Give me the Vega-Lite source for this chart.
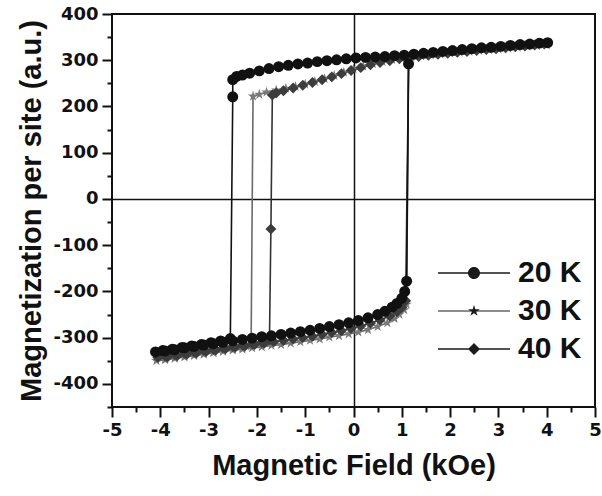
{
  "$schema": "https://vega.github.io/schema/vega-lite/v6.json",
  "width": 483,
  "height": 393,
  "autosize": {"type": "none"},
  "padding": {"left": 112, "top": 14, "right": 7, "bottom": 89},
  "background": "white",
  "config": {
    "view": {"stroke": "#111111", "strokeWidth": 2},
    "axis": {"domain": false, "tickColor": "#111111", "tickWidth": 2, "labelColor": "#111111", "titleColor": "#111111", "labelFont": "DejaVu Sans", "labelFontWeight": "bold", "labelFontSize": 18, "titleFont": "Liberation Sans", "titleFontWeight": "bold", "titleFontSize": 29, "labelFlush": false, "labelOverlap": false, "gridColor": "#111111", "gridWidth": 1.5}
  },
  "resolve": {"scale": {"shape": "independent"}},
  "data": {"name": "loops", "values": [
      {"T": "30 K", "i": 0, "H": 4.0, "M": 333}, {"T": "30 K", "i": 1, "H": 3.8, "M": 331}, {"T": "30 K", "i": 2, "H": 3.6, "M": 330}, {"T": "30 K", "i": 3, "H": 3.4, "M": 328}, {"T": "30 K", "i": 4, "H": 3.2, "M": 326}, {"T": "30 K", "i": 5, "H": 3.0, "M": 324}, {"T": "30 K", "i": 6, "H": 2.8, "M": 323}, {"T": "30 K", "i": 7, "H": 2.6, "M": 321}, {"T": "30 K", "i": 8, "H": 2.4, "M": 319}, {"T": "30 K", "i": 9, "H": 2.2, "M": 317}, {"T": "30 K", "i": 10, "H": 2.0, "M": 315}, {"T": "30 K", "i": 11, "H": 1.8, "M": 313}, {"T": "30 K", "i": 12, "H": 1.6, "M": 311}, {"T": "30 K", "i": 13, "H": 1.4, "M": 309}, {"T": "30 K", "i": 14, "H": 1.2, "M": 307}, {"T": "30 K", "i": 15, "H": 1.0, "M": 304}, {"T": "30 K", "i": 16, "H": 0.8, "M": 301}, {"T": "30 K", "i": 17, "H": 0.6, "M": 297}, {"T": "30 K", "i": 18, "H": 0.4, "M": 292}, {"T": "30 K", "i": 19, "H": 0.2, "M": 287}, {"T": "30 K", "i": 20, "H": 0.0, "M": 281}, {"T": "30 K", "i": 21, "H": -0.2, "M": 274}, {"T": "30 K", "i": 22, "H": -0.4, "M": 267}, {"T": "30 K", "i": 23, "H": -0.6, "M": 260}, {"T": "30 K", "i": 24, "H": -0.8, "M": 254}, {"T": "30 K", "i": 25, "H": -1.0, "M": 248}, {"T": "30 K", "i": 26, "H": -1.2, "M": 243}, {"T": "30 K", "i": 27, "H": -1.4, "M": 239}, {"T": "30 K", "i": 28, "H": -1.6, "M": 235}, {"T": "30 K", "i": 29, "H": -1.8, "M": 231}, {"T": "30 K", "i": 30, "H": -1.95, "M": 226}, {"T": "30 K", "i": 31, "H": -2.08, "M": 222},
      {"T": "30 K", "i": 32, "H": -2.12, "M": -318}, {"T": "30 K", "i": 33, "H": -2.3, "M": -322}, {"T": "30 K", "i": 34, "H": -2.5, "M": -325}, {"T": "30 K", "i": 35, "H": -2.7, "M": -328}, {"T": "30 K", "i": 36, "H": -2.9, "M": -331}, {"T": "30 K", "i": 37, "H": -3.1, "M": -334}, {"T": "30 K", "i": 38, "H": -3.3, "M": -337}, {"T": "30 K", "i": 39, "H": -3.5, "M": -340}, {"T": "30 K", "i": 40, "H": -3.7, "M": -343}, {"T": "30 K", "i": 41, "H": -3.9, "M": -346}, {"T": "30 K", "i": 42, "H": -4.08, "M": -350},
      {"T": "30 K", "i": 43, "H": -3.9, "M": -348}, {"T": "30 K", "i": 44, "H": -3.7, "M": -345}, {"T": "30 K", "i": 45, "H": -3.5, "M": -342}, {"T": "30 K", "i": 46, "H": -3.3, "M": -339}, {"T": "30 K", "i": 47, "H": -3.1, "M": -336}, {"T": "30 K", "i": 48, "H": -2.9, "M": -333}, {"T": "30 K", "i": 49, "H": -2.7, "M": -330}, {"T": "30 K", "i": 50, "H": -2.5, "M": -327}, {"T": "30 K", "i": 51, "H": -2.3, "M": -325}, {"T": "30 K", "i": 52, "H": -2.1, "M": -322}, {"T": "30 K", "i": 53, "H": -1.9, "M": -320}, {"T": "30 K", "i": 54, "H": -1.7, "M": -317}, {"T": "30 K", "i": 55, "H": -1.5, "M": -315}, {"T": "30 K", "i": 56, "H": -1.3, "M": -312}, {"T": "30 K", "i": 57, "H": -1.1, "M": -309}, {"T": "30 K", "i": 58, "H": -0.9, "M": -306}, {"T": "30 K", "i": 59, "H": -0.7, "M": -303}, {"T": "30 K", "i": 60, "H": -0.5, "M": -299}, {"T": "30 K", "i": 61, "H": -0.3, "M": -296}, {"T": "30 K", "i": 62, "H": -0.1, "M": -292}, {"T": "30 K", "i": 63, "H": 0.1, "M": -288}, {"T": "30 K", "i": 64, "H": 0.3, "M": -283}, {"T": "30 K", "i": 65, "H": 0.5, "M": -276}, {"T": "30 K", "i": 66, "H": 0.7, "M": -268}, {"T": "30 K", "i": 67, "H": 0.85, "M": -259}, {"T": "30 K", "i": 68, "H": 0.95, "M": -250}, {"T": "30 K", "i": 69, "H": 1.05, "M": -240}, {"T": "30 K", "i": 70, "H": 1.1, "M": -228}, {"T": "30 K", "i": 71, "H": 1.14, "M": 292},

      {"T": "40 K", "i": 0, "H": 3.95, "M": 335}, {"T": "40 K", "i": 1, "H": 3.75, "M": 333}, {"T": "40 K", "i": 2, "H": 3.55, "M": 331}, {"T": "40 K", "i": 3, "H": 3.35, "M": 329}, {"T": "40 K", "i": 4, "H": 3.15, "M": 327}, {"T": "40 K", "i": 5, "H": 2.95, "M": 325}, {"T": "40 K", "i": 6, "H": 2.75, "M": 323}, {"T": "40 K", "i": 7, "H": 2.55, "M": 321}, {"T": "40 K", "i": 8, "H": 2.35, "M": 319}, {"T": "40 K", "i": 9, "H": 2.15, "M": 317}, {"T": "40 K", "i": 10, "H": 1.95, "M": 315}, {"T": "40 K", "i": 11, "H": 1.75, "M": 313}, {"T": "40 K", "i": 12, "H": 1.55, "M": 311}, {"T": "40 K", "i": 13, "H": 1.35, "M": 308}, {"T": "40 K", "i": 14, "H": 1.15, "M": 306}, {"T": "40 K", "i": 15, "H": 0.95, "M": 303}, {"T": "40 K", "i": 16, "H": 0.75, "M": 299}, {"T": "40 K", "i": 17, "H": 0.55, "M": 295}, {"T": "40 K", "i": 18, "H": 0.35, "M": 290}, {"T": "40 K", "i": 19, "H": 0.15, "M": 284}, {"T": "40 K", "i": 20, "H": -0.05, "M": 278}, {"T": "40 K", "i": 21, "H": -0.25, "M": 271}, {"T": "40 K", "i": 22, "H": -0.45, "M": 264}, {"T": "40 K", "i": 23, "H": -0.65, "M": 258}, {"T": "40 K", "i": 24, "H": -0.85, "M": 252}, {"T": "40 K", "i": 25, "H": -1.05, "M": 246}, {"T": "40 K", "i": 26, "H": -1.25, "M": 240}, {"T": "40 K", "i": 27, "H": -1.45, "M": 234}, {"T": "40 K", "i": 28, "H": -1.6, "M": 229}, {"T": "40 K", "i": 29, "H": -1.68, "M": 225},
      {"T": "40 K", "i": 30, "H": -1.71, "M": -65}, {"T": "40 K", "i": 31, "H": -1.74, "M": -305},
      {"T": "40 K", "i": 32, "H": -1.9, "M": -310}, {"T": "40 K", "i": 33, "H": -2.1, "M": -313}, {"T": "40 K", "i": 34, "H": -2.3, "M": -316}, {"T": "40 K", "i": 35, "H": -2.5, "M": -319}, {"T": "40 K", "i": 36, "H": -2.7, "M": -322}, {"T": "40 K", "i": 37, "H": -2.9, "M": -325}, {"T": "40 K", "i": 38, "H": -3.1, "M": -328}, {"T": "40 K", "i": 39, "H": -3.3, "M": -331}, {"T": "40 K", "i": 40, "H": -3.5, "M": -334}, {"T": "40 K", "i": 41, "H": -3.7, "M": -337}, {"T": "40 K", "i": 42, "H": -3.9, "M": -340}, {"T": "40 K", "i": 43, "H": -4.05, "M": -343},
      {"T": "40 K", "i": 44, "H": -3.85, "M": -342}, {"T": "40 K", "i": 45, "H": -3.65, "M": -339}, {"T": "40 K", "i": 46, "H": -3.45, "M": -336}, {"T": "40 K", "i": 47, "H": -3.25, "M": -333}, {"T": "40 K", "i": 48, "H": -3.05, "M": -330}, {"T": "40 K", "i": 49, "H": -2.85, "M": -327}, {"T": "40 K", "i": 50, "H": -2.65, "M": -324}, {"T": "40 K", "i": 51, "H": -2.45, "M": -321}, {"T": "40 K", "i": 52, "H": -2.25, "M": -318}, {"T": "40 K", "i": 53, "H": -2.05, "M": -315}, {"T": "40 K", "i": 54, "H": -1.85, "M": -312}, {"T": "40 K", "i": 55, "H": -1.65, "M": -309}, {"T": "40 K", "i": 56, "H": -1.45, "M": -306}, {"T": "40 K", "i": 57, "H": -1.25, "M": -303}, {"T": "40 K", "i": 58, "H": -1.05, "M": -300}, {"T": "40 K", "i": 59, "H": -0.85, "M": -297}, {"T": "40 K", "i": 60, "H": -0.65, "M": -293}, {"T": "40 K", "i": 61, "H": -0.45, "M": -289}, {"T": "40 K", "i": 62, "H": -0.25, "M": -285}, {"T": "40 K", "i": 63, "H": -0.05, "M": -280}, {"T": "40 K", "i": 64, "H": 0.15, "M": -275}, {"T": "40 K", "i": 65, "H": 0.35, "M": -269}, {"T": "40 K", "i": 66, "H": 0.55, "M": -262}, {"T": "40 K", "i": 67, "H": 0.75, "M": -253}, {"T": "40 K", "i": 68, "H": 0.9, "M": -244}, {"T": "40 K", "i": 69, "H": 1.0, "M": -235}, {"T": "40 K", "i": 70, "H": 1.08, "M": -220}, {"T": "40 K", "i": 71, "H": 1.14, "M": 292},

      {"T": "20 K", "i": 0, "H": 4.02, "M": 338}, {"T": "20 K", "i": 1, "H": 3.85, "M": 337}, {"T": "20 K", "i": 2, "H": 3.65, "M": 335}, {"T": "20 K", "i": 3, "H": 3.45, "M": 334}, {"T": "20 K", "i": 4, "H": 3.25, "M": 332}, {"T": "20 K", "i": 5, "H": 3.05, "M": 330}, {"T": "20 K", "i": 6, "H": 2.85, "M": 328}, {"T": "20 K", "i": 7, "H": 2.65, "M": 327}, {"T": "20 K", "i": 8, "H": 2.45, "M": 325}, {"T": "20 K", "i": 9, "H": 2.25, "M": 323}, {"T": "20 K", "i": 10, "H": 2.05, "M": 321}, {"T": "20 K", "i": 11, "H": 1.85, "M": 319}, {"T": "20 K", "i": 12, "H": 1.65, "M": 317}, {"T": "20 K", "i": 13, "H": 1.45, "M": 315}, {"T": "20 K", "i": 14, "H": 1.25, "M": 313}, {"T": "20 K", "i": 15, "H": 1.05, "M": 311}, {"T": "20 K", "i": 16, "H": 0.85, "M": 310}, {"T": "20 K", "i": 17, "H": 0.65, "M": 308}, {"T": "20 K", "i": 18, "H": 0.45, "M": 307}, {"T": "20 K", "i": 19, "H": 0.25, "M": 306}, {"T": "20 K", "i": 20, "H": 0.05, "M": 305}, {"T": "20 K", "i": 21, "H": -0.15, "M": 303}, {"T": "20 K", "i": 22, "H": -0.35, "M": 301}, {"T": "20 K", "i": 23, "H": -0.55, "M": 299}, {"T": "20 K", "i": 24, "H": -0.75, "M": 297}, {"T": "20 K", "i": 25, "H": -0.95, "M": 294}, {"T": "20 K", "i": 26, "H": -1.15, "M": 292}, {"T": "20 K", "i": 27, "H": -1.35, "M": 289}, {"T": "20 K", "i": 28, "H": -1.55, "M": 286}, {"T": "20 K", "i": 29, "H": -1.75, "M": 282}, {"T": "20 K", "i": 30, "H": -1.95, "M": 277}, {"T": "20 K", "i": 31, "H": -2.15, "M": 272}, {"T": "20 K", "i": 32, "H": -2.3, "M": 268}, {"T": "20 K", "i": 33, "H": -2.42, "M": 265}, {"T": "20 K", "i": 34, "H": -2.5, "M": 258}, {"T": "20 K", "i": 35, "H": -2.5, "M": 221},
      {"T": "20 K", "i": 36, "H": -2.55, "M": -302},
      {"T": "20 K", "i": 37, "H": -2.75, "M": -307}, {"T": "20 K", "i": 38, "H": -2.95, "M": -311}, {"T": "20 K", "i": 39, "H": -3.15, "M": -315}, {"T": "20 K", "i": 40, "H": -3.35, "M": -318}, {"T": "20 K", "i": 41, "H": -3.55, "M": -321}, {"T": "20 K", "i": 42, "H": -3.75, "M": -325}, {"T": "20 K", "i": 43, "H": -3.95, "M": -328}, {"T": "20 K", "i": 44, "H": -4.1, "M": -331},
      {"T": "20 K", "i": 45, "H": -3.9, "M": -329}, {"T": "20 K", "i": 46, "H": -3.7, "M": -326}, {"T": "20 K", "i": 47, "H": -3.5, "M": -322}, {"T": "20 K", "i": 48, "H": -3.3, "M": -319}, {"T": "20 K", "i": 49, "H": -3.1, "M": -316}, {"T": "20 K", "i": 50, "H": -2.9, "M": -313}, {"T": "20 K", "i": 51, "H": -2.7, "M": -310}, {"T": "20 K", "i": 52, "H": -2.5, "M": -307}, {"T": "20 K", "i": 53, "H": -2.3, "M": -304}, {"T": "20 K", "i": 54, "H": -2.1, "M": -301}, {"T": "20 K", "i": 55, "H": -1.9, "M": -298}, {"T": "20 K", "i": 56, "H": -1.7, "M": -296}, {"T": "20 K", "i": 57, "H": -1.5, "M": -293}, {"T": "20 K", "i": 58, "H": -1.3, "M": -290}, {"T": "20 K", "i": 59, "H": -1.1, "M": -287}, {"T": "20 K", "i": 60, "H": -0.9, "M": -284}, {"T": "20 K", "i": 61, "H": -0.7, "M": -280}, {"T": "20 K", "i": 62, "H": -0.5, "M": -276}, {"T": "20 K", "i": 63, "H": -0.3, "M": -272}, {"T": "20 K", "i": 64, "H": -0.1, "M": -268}, {"T": "20 K", "i": 65, "H": 0.1, "M": -263}, {"T": "20 K", "i": 66, "H": 0.3, "M": -257}, {"T": "20 K", "i": 67, "H": 0.5, "M": -250}, {"T": "20 K", "i": 68, "H": 0.65, "M": -243}, {"T": "20 K", "i": 69, "H": 0.8, "M": -234}, {"T": "20 K", "i": 70, "H": 0.9, "M": -226}, {"T": "20 K", "i": 71, "H": 1.0, "M": -215}, {"T": "20 K", "i": 72, "H": 1.06, "M": -200}, {"T": "20 K", "i": 73, "H": 1.1, "M": -178}, {"T": "20 K", "i": 74, "H": 1.14, "M": 292}
  ]},
  "encoding": {
    "x": {
      "field": "H", "type": "quantitative",
      "scale": {"domain": [-5, 5], "nice": false},
      "axis": {
        "title": "Magnetic Field (kOe)",
        "values": [-5, -4.5, -4, -3.5, -3, -2.5, -2, -1.5, -1, -0.5, 0, 0.5, 1, 1.5, 2, 2.5, 3, 3.5, 4, 4.5, 5],
        "tickSize": {"condition": {"test": "datum.value % 1 !== 0", "value": 5}, "value": 10},
        "grid": true,
        "gridOpacity": {"condition": {"test": "datum.value === 0", "value": 1}, "value": 0},
        "labelExpr": "datum.value % 1 === 0 ? (datum.value < 0 ? '-' : '') + abs(datum.value) : ''",
        "labelPadding": 4,
        "titlePadding": 12
      }
    },
    "y": {
      "field": "M", "type": "quantitative",
      "scale": {"domain": [-450, 400], "nice": false},
      "axis": {
        "title": "Magnetization per site (a.u.)",
        "values": [-450, -400, -350, -300, -250, -200, -150, -100, -50, 0, 50, 100, 150, 200, 250, 300, 350, 400],
        "tickSize": {"condition": {"test": "datum.value % 100 !== 0", "value": 5}, "value": 10},
        "grid": true,
        "gridOpacity": {"condition": {"test": "datum.value === 0", "value": 1}, "value": 0},
        "labelExpr": "datum.value % 100 === 0 ? (datum.value < 0 ? '-' : '') + abs(datum.value) : ''",
        "labelPadding": 4,
        "titlePadding": 6
      }
    }
  },
  "layer": [
    {
      "transform": [{"filter": "datum.T === '30 K'"}],
      "mark": {"type": "line", "strokeWidth": 1.6, "stroke": "#6a6a6a"},
      "encoding": {"order": {"field": "i", "type": "quantitative"}}
    },
    {
      "transform": [{"filter": "datum.T === '40 K'"}],
      "mark": {"type": "line", "strokeWidth": 1.6, "stroke": "#333333"},
      "encoding": {"order": {"field": "i", "type": "quantitative"}}
    },
    {
      "transform": [{"filter": "datum.T === '20 K'"}],
      "mark": {"type": "line", "strokeWidth": 1.6, "stroke": "#111111"},
      "encoding": {"order": {"field": "i", "type": "quantitative"}}
    },
    {
      "mark": {"type": "point", "filled": true, "opacity": 1, "size": 120},
      "encoding": {
        "color": {
          "field": "T", "type": "nominal",
          "scale": {"domain": ["20 K", "30 K", "40 K"], "range": ["#111111", "#7a7a7a", "#3c3c3c"]},
          "legend": null
        },
        "shape": {
          "field": "T", "type": "nominal",
          "scale": {"domain": ["20 K", "30 K", "40 K"], "range": ["circle", "M0,-1 L0.224,-0.309 L0.951,-0.309 L0.363,0.118 L0.588,0.809 L0,0.382 L-0.588,0.809 L-0.363,0.118 L-0.951,-0.309 L-0.224,-0.309 Z", "diamond"]},
          "legend": null
        }
      }
    },
    {
      "mark": {"type": "point", "filled": true, "opacity": 1, "size": 0, "color": "#1a1a1a"},
      "encoding": {
        "shape": {
          "field": "T", "type": "nominal",
          "scale": {"domain": ["20 K", "30 K", "40 K"], "range": [
            "M-7.2,-0.16H7.2V0.16H-7.2Z M-1.2,0 A1.2,1.2 0 1,1 1.2,0 A1.2,1.2 0 1,1 -1.2,0Z",
            "M-7.2,-0.12H7.2V0.12H-7.2Z M0,-1.2 L0.27,-0.37 L1.14,-0.37 L0.44,0.14 L0.71,0.97 L0,0.46 L-0.71,0.97 L-0.44,0.14 L-1.14,-0.37 L-0.27,-0.37Z",
            "M-7.2,-0.16H7.2V0.16H-7.2Z M0,-1.2 L1.2,0 L0,1.2 L-1.2,0Z"
          ]},
          "legend": {
            "orient": "none", "legendX": 347, "legendY": 244, "title": null,
            "padding": 0, "symbolSize": 100, "labelFont": "Liberation Sans", "labelFontWeight": "bold", "labelFontSize": 30, "labelColor": "#111111",
            "labelOffset": 29, "rowPadding": 8, "symbolFillColor": "#1a1a1a", "symbolStrokeWidth": 0, "symbolOpacity": 1
          }
        }
      }
    }
  ]
}
